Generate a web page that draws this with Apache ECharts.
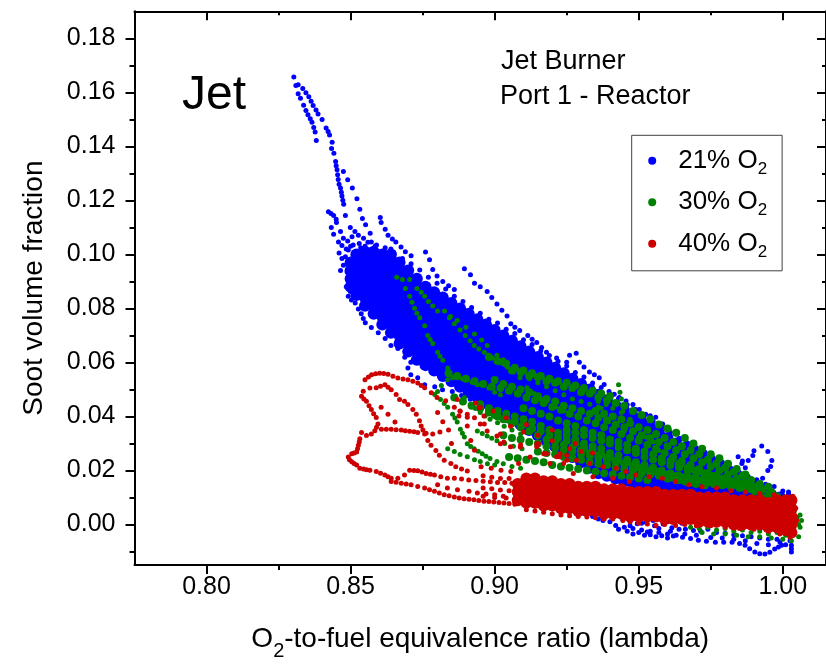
<!DOCTYPE html>
<html>
<head>
<meta charset="utf-8">
<script src="https://cdn.jsdelivr.net/npm/echarts@6.0.0/dist/echarts.min.js"></script>
<style>html,body{margin:0;padding:0;background:#fff;}#c{width:826px;height:666px;}</style>
</head>
<body>
<div id="c"></div>
<script>
// ---- data (x, y in thousandths: 830 -> 0.830, 12 -> 0.012) ----
const seriesNames = ['21% O2', '30% O2', '40% O2'];
const xMajorTicks = [0.80, 0.85, 0.90, 0.95, 1.00];
const xMinorTicks = [0.825, 0.875, 0.925, 0.975];
const yMajorTicks = [0.00, 0.02, 0.04, 0.06, 0.08, 0.10, 0.12, 0.14, 0.16, 0.18];
const yMinorTicks = [-0.01, 0.01, 0.03, 0.05, 0.07, 0.09, 0.11, 0.13, 0.15, 0.17];

// 21% O2 : dense cloud (columns: x, then y values)
const blueDense = [
[850,88,91,94,97],
[852,85,88,91,94,97,100],
[855,81,84,87,90,93,96,99,101],
[858,78,81,84,87,90,93,96,99,101],
[861,74,77,80,83,86,89,92,95,98,100],
[864,71,74,77,80,83,86,89,92,95,98,100],
[867,67,70,73,76,79,82,85,88,91,94,97],
[870,64,67,70,73,76,79,82,85,88,91,94],
[873,61,64,67,70,73,76,79,82,85,88,91],
[876,59,62,65,68,71,74,77,80,83,86,88],
[879,57,60,63,66,69,72,75,78,81,84,86],
[882,55,58,61,64,67,70,73,76,79,82,84],
[885,53,56,59,62,65,68,71,74,77,80,82],
[888,51,54,57,60,63,66,69,72,75,78,80],
[891,49,52,55,58,61,64,67,70,73,76,78],
[894,47,50,53,56,59,62,65,68,71,74,76],
[897,45,48,51,54,57,60,63,66,69,72,74],
[900,43,46,49,52,55,58,61,64,67,70,72],
[903,41,44,47,50,53,56,59,62,65,68,70],
[906,39,42,45,48,51,54,57,60,63,66,68],
[909,37,40,43,46,49,52,55,58,61,64,66],
[912,35,38,41,44,47,50,53,56,59,62,64],
[915,33,36,39,42,45,48,51,54,57,60,62],
[918,31,34,37,40,43,46,49,52,55,58,60],
[921,29,32,35,38,41,44,47,50,53,56,58],
[924,27,30,33,36,39,42,45,48,51,54,56],
[927,25,28,31,34,37,40,43,46,49,52,54],
[930,23,26,29,32,35,38,41,44,47,50,52],
[933,21,24,27,30,33,36,39,42,45,48,50],
[936,19,22,25,28,31,34,37,40,43,46,48],
[939,18,21,24,27,30,33,36,39,42,45,46],
[942,17,20,23,26,29,32,35,38,41,44],
[945,16,19,22,25,28,31,34,37,40,42],
[948,15,18,21,24,27,30,33,36,39,40],
[951,15,18,21,24,27,30,33,36,38],
[954,14,17,20,23,26,29,32,35,36],
[957,14,17,20,23,26,29,32,34],
[960,13,16,19,22,25,28,31,32],
[963,13,16,19,22,25,28,30],
[966,13,16,19,22,25,28],
[969,12,15,18,21,24,26],
[972,12,15,18,21,24],
[975,12,15,18,21,23],
[978,11,14,17,20,21],
[981,11,14,17,19],
[984,11,14,17],
[987,11,13,15],
[990,10,12,14],
[993,10,12],
[996,9,11],
[999,9,10],
[1002,8,9]
];
// 21% O2 : individual traces (x,y pairs)
const blueTraces = [
830.3,165.7, 831,162.5, 831.8,159.5, 832.6,157.8, 833.7,155.2, 834.5,153.3, 835.2,151.7, 836,150.2, 836.6,148.9, 837.2,147, 837.7,145.3, 838.1,142.2,
831.8,162.8, 833.4,161.4, 834.5,159.8, 835.5,158.4, 836.3,156.7, 837,155.1, 838,153.5, 838.7,152, 840.1,149.9, 841.5,146.8, 842.2,145.5, 842.7,144.2, 843.6,141.5, 843.4,139.2, 844.2,137.4, 844.8,134.4, 845,132.8, 845.3,131.3, 845.5,129.5, 845.7,127.7, 846,126, 846.5,124.6, 846.8,123, 847,121.6, 847.3,120, 847.6,118.6,
847.5,130.7, 849,127.6, 850.6,124.6, 852.2,120.6, 853.2,116.7, 854.1,113.3, 855.2,111,
842.3,115.8, 843.2,115.1, 844.1,114.4, 845,113, 845.1,111.8, 843.3,110, 844.1,107.5, 845.8,104.6, 847,103.3, 848.5,102, 849.9,110, 848.2,114.4, 850.9,103.5, 852.7,107.1, 854.5,106, 856.8,107.8, 857.2,104.6, 858.5,103, 860.3,113.7, 860.6,111.8, 862,109.3, 863,107.1, 864.5,105.7, 865.7,104.6, 864,102, 867.5,102.7, 869,101, 871,99.5,
846.5,108.5, 847.5,106, 849,105, 850.5,106.5, 851.5,108.5, 853.5,102.5, 855,103, 846,100.5, 847,98.5, 847.5,96, 846.5,94,
876,100.9, 877.4,98, 878.5,94.4, 880,92, 882,90, 884,88.4, 886,87,
889.5,94.7, 891.6,92.5, 893,89.3, 895,88, 897.4,86.3, 899,84, 900.8,81.6, 902.5,79.3, 904.3,77.2, 905.6,74.3, 907,73, 908.7,71.8, 911.5,70, 913,68.6, 914.6,67.4, 916.3,65.5, 918,63.8, 921.5,61.6, 925,60.1, 928.3,63.4, 926,62.7, 929.4,60.1, 931,58.3, 932.9,56.5, 934.6,55.4, 936.3,54.3, 938,51.8, 939.7,49.2, 941.5,48.2, 943.2,47, 945.6,45.7, 948,44.4, 950.2,42.6, 952.4,40.8, 954,40.3, 955.9,39.7, 958.3,37.2, 960.5,35.3, 962.8,33.5, 964.5,31.7, 966.2,29.9, 968.5,28.6, 970.7,27.3, 973,26.2, 975.5,25.1, 978,24, 981,22.6, 984.5,25.1, 986,23.5,
850,103, 853,104, 856,104.5, 859,103.5, 862,102.5, 865,100.5, 868,98.5, 871,96.5, 874,94.2, 877,91.5, 880,89.3, 883,87.2, 886,84.5, 889,82.6, 892,80.3, 895,78.2, 898,76, 901,74.6, 904,72.3, 907,70.7, 910,68.4, 913,66.6, 916,64.3, 919,62.6, 922,60.4, 925,58.7, 928,56.3, 931,54.6, 934,52.4, 937,50.7, 940,48.3, 943,46.6, 946,44.3, 949,42.6, 952,40.4, 955,38.2, 958,35.9, 961,34.1, 964,31.8, 967,30.2, 970,28.4, 973,26.7, 976,24.4, 979,23.1, 982,20.8, 985,19.2, 988,17.8, 991,16.6, 994,14.9, 997,14.1, 1000,12.4, 1002,11.2,
856.1,89.3, 854.9,88.8, 853.7,88.2, 851.6,87.1, 849.9,86.3, 849.2,84.5, 850.3,83.1, 851.6,82, 852.7,79.8, 853.7,78, 854.4,76.3, 855.1,74.7, 857.2,72.9, 859.6,71, 862,68.9, 864,66.3, 866.4,65.2, 868.8,61.9, 870.9,60.1, 869.9,57.9, 870.9,55.4, 873.3,54.3, 875.7,51.7, 879.2,51, 881.9,49.9, 885.3,49.2, 888.5,47.8, 891.5,46.4, 894.6,44.8, 897.5,43.1,
848.2,99.1, 849.2,101.6, 850.2,96.5, 848.8,93.5, 849.2,90.5, 848.5,88,
862,74.7, 864.5,72, 867,69.5, 869.5,67, 871.5,64.5, 873.3,62,
984.5,19.7, 985.8,22.6, 988,23.7, 989.6,25.5, 990,27.3, 992.7,29.1, 994.8,27, 996.2,23.7, 995.8,21.5, 994.8,20, 993,17.1, 991.5,15.5, 987,21,
1002,12, 1003,9, 1002.5,6, 1003,3, 1002,0, 1003,-3, 1002.5,-6, 1003,-9, 1001,4, 1001,-1,
928,5.5, 931,4.2, 934,3, 936,2, 937.6,1.5, 940,1, 942,-0.4, 944.5,1.8, 945,-1, 947,1.2, 948,-1.5, 949.5,0.3, 951,-2, 952.5,0.8, 954,-2.5, 955.5,-0.5, 957,-3, 958.5,0.2, 960,-3.5, 961.5,-1.2, 963,-4, 964,-1.8, 965.2,-4.7, 966.2,-1.8, 968,-5.2, 969,-2.2, 970.7,-5.8, 971.5,-2.5, 973.5,-6.2, 974,-1.8, 976.6,-6.6, 977,-3, 979.5,-6.6, 980,-3.2, 982.4,-6.6, 983,-3.8, 985,-7, 986,-4.2, 986.9,-7.7, 988.5,-9, 989,-4.5, 990.3,-10.2, 992,-10.8, 992,-5, 993.8,-10.9, 995,-5.5, 995.5,-10.3, 997.2,-9.1, 998,-5.5, 998.5,-8.3, 999.6,-7.7, 1001,-7.5, 1003,-7.7, 1003,-10.2,
946,-2.5, 948,-3.5, 950,-3, 952,-4, 954,-3.8, 956,-4.5, 958,-4.2, 960,-5, 962,-4.3, 945,2.5, 950,2.2, 955,1.5, 960,1, 965,0.5, 941,3, 938,4, 934,5, 930,6.5,
943,-1.8, 947,-0.5, 951,0.5, 953,-2.8, 957,-1.5, 961,-2.5, 966,-3.5, 970,-4, 975,-4.8, 979,-5, 983,-5.5, 987,-6, 991,-7, 995,-7.5, 999,-6.5
];

// 30% O2 : streaks through the dense region (x,y pairs)
const greenStreaks = [
906,57, 909,56.5, 912,55, 915,54.5, 918,53, 921,52.5, 924,51, 927,50.5, 930,49, 933,48.5, 936,47, 939,46, 942,45, 945,44, 948,42, 951,40.5, 954,39, 957,37, 960,35.5, 963,34, 966,32, 969,30, 972,28, 975,26, 978,24.5, 981,22.5, 984,20.5, 987,18.5,
884,56, 887,55, 890,54, 893,53, 896,52, 899,51, 902,50.5, 905,49.5, 908,48.5, 911,47, 914,46, 917,45, 920,43.5, 923,42.5, 926,41, 929,40, 932,38.5, 935,37.5, 938,36, 941,35, 944,33.5, 947,32, 950,31, 953,29.5, 956,28, 959,26.5, 962,25, 965,23.5, 968,22, 971,20.5, 974,19, 977,17.5, 980,16.5, 983,15, 986,14, 989,13, 992,12, 995,11, 998,10.5,
886,47, 889,45.5, 892,44, 895,43, 898,41.5, 901,40, 904,39, 907,38, 910,37, 913,35.5, 916,34.5, 919,33, 922,32, 925,31, 928,30, 931,28.5, 934,27.5, 937,26, 940,25, 943,24, 946,23, 949,21.5, 952,20.5, 955,19.5, 958,18.5, 961,17.5, 964,16.5, 967,15.5, 970,15, 973,14.5,
895,44.5, 898,43, 901,42, 904,41, 907,40, 910,39, 913,38, 916,36.5, 919,35, 922,34, 925,33, 928,31.5, 931,30, 934,29, 937,28, 940,26.5, 943,25.5, 946,24, 949,23, 952,22, 955,21, 958,20, 961,19, 964,18, 967,17.5, 970,16.5, 973,16, 976,15, 979,14.5, 982,14, 985,13.5,
900,53.5, 903,52, 906,51, 909,50, 912,49, 915,47.5, 918,46.5, 921,45.5, 924,44, 927,43, 930,42, 933,41, 936,39.5, 939,38.5, 942,37, 945,36, 948,34.5, 951,33, 954,32, 957,30.5, 960,29, 963,27.5, 966,26, 969,24.5, 972,23, 975,21.5, 978,20, 981,18.5, 984,17, 987,15.5, 990,14, 993,13, 996,12,
910,43, 913,42, 916,41, 919,40, 922,38.5, 925,37.5, 928,36.5, 931,35, 934,34, 937,33, 940,31.5, 943,30.5, 946,29.5, 949,28, 952,27, 955,26, 958,24.5, 961,23.5, 964,22.5, 967,21, 970,20, 973,19, 976,18, 979,17, 982,16, 985,15, 988,14, 991,13,
903,33, 906,32, 909,31.5, 912,30.5, 915,30, 918,29, 921,28.5, 924,27.5, 927,27, 930,26, 933,25.5, 936,24.5, 939,24, 942,23, 945,22.5, 948,21.5, 951,21, 954,20, 957,19.5, 960,18.5, 963,18, 966,17.5, 969,17, 972,16.5, 975,16, 978,15.5, 981,15,
900,40.5, 903,39, 906,37.5, 909,36, 912,34.5, 915,33, 918,31.5, 921,30.5, 924,29.5, 927,28.5, 930,27.5, 933,26.5, 936,25.5, 939,24.5, 942,23.5, 945,22.5, 948,21.5, 951,20.5, 954,19.5, 957,18.5, 960,17.5,
898,62, 901,60.5, 904,59.5, 907,58, 910,57, 913,56, 916,55, 919,54, 922,53, 925,52.5, 928,51.5, 931,50.5, 934,49.5, 937,48.5, 940,47.5,
905,25, 908,24.5, 911,24, 914,23.5, 917,23, 920,22, 923,21.5, 926,21, 929,20.5, 932,20, 935,19.5, 938,19, 941,18.5, 944,18, 947,17.5, 950,17, 953,16.5,
915,27, 918,26.5, 921,26, 924,25, 927,24.5, 930,24, 933,23, 936,22.5, 939,22, 942,21, 945,20.5, 948,20, 951,19, 954,18.5, 957,18, 960,17, 963,16.5, 966,16, 969,15.5,
925,35, 928,34, 931,33, 934,32, 937,31, 940,30, 943,28.5, 946,27.5, 949,26.5, 952,25, 955,24, 958,23, 961,22, 964,21, 967,20, 970,19, 973,18, 976,17, 979,16, 982,15.5,
935,42, 938,41, 941,40, 944,39, 947,37.5, 950,36, 953,35, 956,33.5, 959,32, 962,30.5, 965,29, 968,27.5, 971,26, 974,24, 977,22.5, 980,21, 983,19.5, 986,18, 989,16.5, 992,15, 995,14
];
// 30% O2 : individual traces (x,y pairs)
const greenTraces = [
866,91.5, 868,90.7, 870.5,90.7, 869,87.4, 870.5,84.5, 871.3,82.3, 872.2,80.1, 873,78.2, 874,76.5, 875.7,73.6, 876.8,70, 877.6,68.5, 878.5,67, 880.2,63.8, 881,62.3, 882,60.8, 883.7,57.9, 885.4,54.3,
873,87.4, 874.5,86, 875.7,84.5, 877,82.6, 878.5,80.9, 880.2,79, 882.6,79, 884.3,76.5, 886,74.3, 888,72, 889.8,70, 891.5,68, 892.9,66.3, 894.5,65, 896.4,63.8, 897.8,62.7, 899.2,61.6, 900.8,60.5, 902.6,59.7, 904.5,58.2, 906.5,56.5, 908.8,54.3, 911.2,50.6, 913.6,48.5, 916,46.5, 918,45.5, 921,43.5, 924,42, 926.5,40.7, 929.4,39.7,
884.7,77, 887,75.5, 890,73, 893,70.5, 895.5,68.3, 897.4,66.3, 900.8,62.7, 903,61, 904.3,59, 906.7,57.2, 909,55.5, 912,54, 915,52.5, 918,51, 921,49.5, 924,48, 927,46.5, 930,45.5, 933,44.5, 936,43.5, 938.7,44.4, 941,43, 944.5,41.9, 947,39, 950,36.5, 952.4,32.4, 955,30.5,
943,51.7, 943.5,49, 944,46.5, 944.5,44, 944,41.5, 944.5,39, 945,36.5, 945,34.6, 936,45.5, 937,43, 938,40.5, 939.5,38, 941,35.5,
879.2,48.1, 880.2,49.2, 881.5,51.5, 883.7,53.6, 885.5,54.6, 887,54.3, 888.8,54, 890.5,53.6, 892.2,52.7, 894,51.7, 896.4,52.5, 898,50.5, 900,49, 902,48,
881.2,46.3, 882.5,44.8, 883.7,43.4, 885.4,40.8, 886.2,39.4, 887,37.9, 888.1,35.3, 888.8,33.8, 889.5,32.4, 890.5,29.9, 891.7,28.9, 892.9,28, 894.3,27.1, 895.7,26.2, 897,25.3, 898.4,24.4, 900.8,23.3, 903,22.5, 906,21.5, 909,20.8,
883.7,28, 886,27, 888,25.9, 890.5,25.1, 893,24, 895,23.3, 897.5,22.5, 900,22,
889.5,47, 891.6,44.4, 893.3,42.9, 895,41.5, 896.7,40.2, 898.4,39, 901,37.7, 903.3,36.4, 906,35, 909,33.5, 894,34.6, 895.7,33.7, 897.4,32.8, 899,31.9, 900.8,31, 903.5,30, 906.5,29, 909.5,28,
950,32.4, 957,27.3, 961.8,23.7, 965,22, 968.6,20, 972,19, 975.5,17.8, 978,16.8, 981,15.3, 984,14, 986.9,12.4, 990,11.5, 993,10.5, 996,10, 999,9.5, 1001,9, 1003,9.1,
968,-1, 971,-1.5, 974,-1, 977,-2, 980,-1.5, 983,-2.5, 986,-2, 989,-3, 992,-2.5, 995,-3.5, 998,-3, 1001,-4, 1004,-3, 1006,-1, 1006.5,1.5, 1005.5,-4.5, 972,-3, 976,-3.5, 980,-3.5, 984,-4, 988,-4.5, 992,-4.5, 996,-5, 1000,-5.5, 1003,-6, 1006,3.5, 1004,1, 1002,0.5, 1004,5, 1005,2.5, 1005.5,0
];

// 40% O2
const redDense = [
[908,9,12,15],
[911,8,11,14,17],
[914,8,11,14,17],
[917,7,10,13,16],
[920,7,10,13,16],
[923,6,9,12,15],
[926,6,9,12,15],
[929,5,8,11,14],
[932,5,8,11,14],
[935,5,8,11,14],
[938,4,7,10,13],
[941,4,7,10,13],
[944,4,7,10,13],
[947,3,6,9,12],
[950,3,6,9,12],
[953,3,6,9,12],
[956,3,6,9,12],
[959,2,5,8,11],
[962,2,5,8,11],
[965,2,5,8,11],
[968,2,5,8,11],
[971,1,4,7,10],
[974,1,4,7,10],
[977,1,4,7,10],
[980,1,4,7,10],
[983,0,3,6,9],
[986,0,3,6,9],
[989,0,3,6,9],
[992,0,3,6,9],
[995,-1,2,5,8],
[998,-1,2,5,8,9],
[1001,-2,1,4,7,9],
[1003,-3,0,3,6,9]
];
const redTraces = [
855,53.6, 856.2,54.6, 857.3,55.4, 858.7,55.8, 860.1,56, 861.5,55.9, 863,55.6, 864.7,54.9, 866.4,54.2, 868.2,53.9, 869.9,53.6, 871.6,53, 873.3,52.4, 874.5,51.5, 875.7,50.6, 878,48.8, 880,47, 883,45.8, 886,43.4, 888,42, 890.5,40.8, 893,39.5, 896.3,40.2, 894.6,43.2,
856.7,50.5, 858.9,50.6, 860.4,51.2, 861.9,51.7, 863,50.8, 864.1,49.9, 865.8,48.1, 867,46.3, 868.7,45.6, 869.9,44.4, 871.6,42.6, 872.8,40.8, 873.9,38.4, 874.5,36.5, 875.1,35, 875.7,33.5, 876.8,31.1, 877.9,29.3, 879.6,27.4, 880.8,25.6, 882.5,23.8, 884.8,22.6, 886.5,21.4, 888.5,20.5, 890.5,19.8,
854.4,49.3, 853.8,47.5, 854.6,46.5, 855.5,45.6, 856.4,44, 857.2,42.6, 858,41, 858.9,39.6, 859.5,37.2, 859,36, 858.4,34.7, 857.2,33.5, 855.5,32.9, 853.8,34.1, 853.2,31.7, 853,30.5, 852.7,29.3, 852.4,28, 852.1,26.8, 851.2,26.5, 850.4,26.2, 849.2,25, 849.6,24, 850.4,23.2, 851.2,22.6, 852.1,22, 853.2,20.8, 854.5,20.5,
860.6,43.4, 863,40.8, 865.4,37.9,
860.7,35.3, 862.4,35.3, 864.1,35.3, 865.8,35.1, 867.6,35, 869,34.7, 870.5,34.5, 872,34.3, 873.3,34.1, 876.2,33.8, 878.5,33.5, 881,34.2,
855.5,20.3, 856.7,20.1, 858.9,19.6, 860.4,19, 861.9,18.3, 863,17.7, 864.1,17.1, 866.4,17.1, 868.7,18.3, 870.5,20.1, 872,20, 873.3,19.9, 874.8,19.4, 876.2,18.9, 877.7,18.6, 879.1,18.3, 881.3,17.7, 883.6,17.1, 886,17.1, 888.5,16.8, 891,16.5, 893.5,16.3, 896,16, 898.5,15.8, 901,15.5, 903.5,15.5, 906,15.3,
864.1,15.9, 865.8,15.6, 867.6,15.3, 869.3,15, 871,14.7, 873.3,14.1, 875.7,13.5, 877.4,12.9, 879.1,12.3, 880.8,11.7, 882.5,11, 884.2,10.6, 886,10.2, 887.7,9.8, 889.4,9.5, 891.1,9.3, 892.8,9.2, 894.5,8.9, 896.3,8.6, 898,8.5, 899.7,8.3, 901.5,8.1, 903.2,8, 905,7.8, 907,7.5,
880.2,14.7, 883.6,13.5, 887.1,12.9, 891.1,12.3, 894,11.7, 897,11.3, 900,11, 903,10.5,
880.2,41.5, 887,46.3, 888,41.9, 890.5,39.7, 895,37.2, 897.4,34.6, 900.8,32.8, 902,29.9, 905.5,28.8, 909,29.5, 914.6,28.8, 918,26.2, 922.5,25.1, 895,43.4, 896.4,37.2, 902,33.5, 905.5,36.4, 910,34.2, 914.6,29.9, 917,26.2, 921.5,25.1, 923.9,22.6, 903.2,30.5, 908.9,28.7, 915.2,29.9, 917.5,26.2, 922.7,26.2, 925,23.8, 919.2,22.6, 912.3,25, 895.3,21.4, 898.8,20.8, 902.2,20.1, 905.6,19.6, 908.3,22.6, 887.6,40.2, 890.5,36.5, 891.7,31.1, 893,27.5, 885,30, 884,35, 882,38, 893.5,45, 899.5,42, 904,39.5, 911,37, 915,33, 920,31, 926,28, 930,27, 934,26.5, 928,30, 920,35,
925,25.6, 928.4,23.8, 933,22.6, 937.6,21.4, 942.2,20.8, 945.6,19.6, 949,18.3, 953.6,17.7, 958.2,17.1, 962.8,15.9, 967.4,14.7, 927.3,18.9, 934.1,17.7, 941,17.1, 946.8,15.9, 972,14, 977,13.5, 982,12.5, 987,12, 992,11.5, 997,11,
1003,-3, 1004,0, 1004.5,3, 1004.5,6, 1004,9, 1002.5,-4.7, 1004.8,1.5, 1003.5,10.5,
944.5,1.5, 947,1, 950,0.5, 953,0.2, 956,-0.4, 959,0, 962.8,-0.4, 966,0, 970,-0.5, 975,-0.5, 980,-1, 985,-1.5, 990,-1.8, 995,-2.5, 999,-3.5,
896,18, 899,17.5, 902,17, 905,17, 896,13.5, 899,13.2, 902,12.8, 905,12.5, 908,12.3, 896,10.5, 900,10, 904,9.8, 908,9.2, 911,5.5, 914,5, 917,4.5, 920,4, 923,3.5, 926,3.2, 929,3, 932,2.8, 935,2.5, 938,2, 941,2
];

// ---- build ----
function fromPairs(flat) {
  const out = [];
  for (let i = 0; i + 1 < flat.length; i += 2) out.push([flat[i] / 1000, flat[i + 1] / 1000]);
  return out;
}
function fromColumns(cols) {
  const out = [];
  cols.forEach(function (c) { for (let i = 1; i < c.length; i++) out.push([c[0] / 1000, c[i] / 1000]); });
  return out;
}

const FONT = '"Liberation Sans", Arial, sans-serif';
const colors = ['#0000ff', '#008000', '#cc0000'];

function scatter(name, color, data, size) {
  return {
    type: 'scatter', name: name, data: data, symbol: 'circle', symbolSize: size,
    itemStyle: { color: color, opacity: 1 }, silent: true, animation: false,
    progressive: 0, large: false, emphasis: { disabled: true },
    xAxisIndex: 0, yAxisIndex: 0
  };
}

const tickStyle = { color: '#000', width: 2 };
function xAxisDef(pos, ticks, len, inside, main) {
  return {
    type: 'value', position: pos, min: 0.775, max: 1.015,
    axisLine: { show: main, onZero: false, lineStyle: { color: '#000', width: 2 } },
    axisTick: { show: true, inside: inside, length: len, customValues: ticks, lineStyle: tickStyle },
    axisLabel: { show: false }, splitLine: { show: false }
  };
}
function yAxisDef(pos, ticks, len, inside, main) {
  return {
    type: 'value', position: pos, min: -0.015, max: 0.19,
    axisLine: { show: main, onZero: false, lineStyle: { color: '#000', width: 2 } },
    axisTick: { show: true, inside: inside, length: len, customValues: ticks, lineStyle: tickStyle },
    axisLabel: { show: false }, splitLine: { show: false }
  };
}

const xMain = xAxisDef('bottom', xMajorTicks, 9, false, true);
xMain.axisLabel = { show: true, customValues: xMajorTicks, margin: 10, fontSize: 25, fontFamily: FONT, color: '#000',
  formatter: function (v) { return v.toFixed(2); } };
xMain.name = 'O{sub|2}-to-fuel equivalence ratio (lambda)';
xMain.nameLocation = 'middle';
xMain.nameGap = 52;
xMain.nameTextStyle = { fontSize: 28, fontFamily: FONT, color: '#000', lineHeight: 44,
  rich: { sub: { fontSize: 20, fontFamily: FONT, color: '#000', lineHeight: 13, verticalAlign: 'bottom' } } };

const yMain = yAxisDef('left', yMajorTicks, 9, false, true);
yMain.axisLabel = { show: true, customValues: yMajorTicks, margin: 19, fontSize: 25, fontFamily: FONT, color: '#000',
  formatter: function (v) { return v.toFixed(2); } };
yMain.name = 'Soot volume fraction';
yMain.nameLocation = 'middle';
yMain.nameGap = 85;
yMain.nameTextStyle = { fontSize: 28, fontFamily: FONT, color: '#000', lineHeight: 30 };

const option = {
  animation: false,
  backgroundColor: '#fff',
  grid: { left: 134.5, top: 11.3, right: -5.6, bottom: 92.7, containLabel: false },
  xAxis: [
    xMain,
    xAxisDef('bottom', xMinorTicks, 5, false, false),
    xAxisDef('top', xMajorTicks, 9, true, true),
    xAxisDef('top', xMinorTicks, 4, true, false)
  ],
  yAxis: [
    yMain,
    yAxisDef('left', yMinorTicks, 5, false, false),
    yAxisDef('right', yMajorTicks, 9, true, true),
    yAxisDef('right', yMinorTicks, 4, true, false)
  ],
  legend: {
    data: seriesNames, orient: 'vertical', left: 631.7, top: 135.3,
    icon: 'circle', itemWidth: 8, itemHeight: 8, itemGap: 7.5,
    padding: [8.5, 15, 10, 16.5],
    borderColor: '#404040', borderWidth: 1, backgroundColor: '#fff',
    selectedMode: false,
    formatter: function (n) { return n.replace('O2', 'O{sub|2}'); },
    textStyle: { fontSize: 26, fontFamily: FONT, color: '#000', lineHeight: 34, padding: [0, 0, 0, 17],
      rich: { sub: { fontSize: 17, fontFamily: FONT, color: '#000', lineHeight: 13, verticalAlign: 'bottom' } } }
  },
  graphic: [
    { type: 'text', x: 182, y: 95.4, silent: true,
      style: { text: 'Jet', fontSize: 48, fontFamily: FONT, fill: '#000', align: 'left', verticalAlign: 'middle' } },
    { type: 'text', x: 501, y: 61.3, silent: true,
      style: { text: 'Jet Burner', fontSize: 27, fontFamily: FONT, fill: '#000', align: 'left', verticalAlign: 'middle' } },
    { type: 'text', x: 500, y: 96.6, silent: true,
      style: { text: 'Port 1 - Reactor', fontSize: 27, fontFamily: FONT, fill: '#000', align: 'left', verticalAlign: 'middle' } }
  ],
  series: [
    scatter(seriesNames[0], colors[0], fromColumns(blueDense), 12),
    scatter(seriesNames[0], colors[0], fromPairs(blueTraces), 5),
    scatter(seriesNames[1], colors[1], fromPairs(greenStreaks), 8),
    scatter(seriesNames[1], colors[1], fromPairs(greenTraces), 5),
    scatter(seriesNames[2], colors[2], fromColumns(redDense), 12),
    scatter(seriesNames[2], colors[2], fromPairs(redTraces), 5)
  ]
};

const chart = echarts.init(document.getElementById('c'), null, { renderer: 'canvas' });
chart.setOption(option);
</script>
</body>
</html>
